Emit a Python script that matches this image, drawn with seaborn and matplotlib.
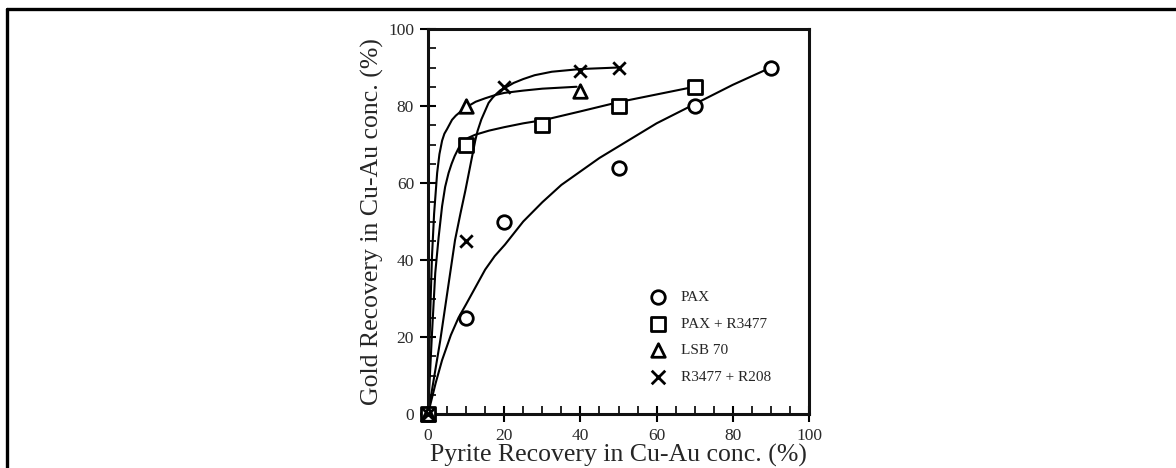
import matplotlib
matplotlib.use("Agg")
import matplotlib.pyplot as plt
from matplotlib.lines import Line2D
from matplotlib.ticker import MultipleLocator
import numpy as np
import pandas as pd
import seaborn as sns

# ---- measured data points ----
series_names = ["PAX", "PAX + R3477", "LSB 70", "R3477 + R208"]

pax_x = [0, 10, 20, 50, 70, 90]
pax_y = [0, 25, 50, 64, 80, 90]

pax_r3477_x = [0, 10, 30, 50, 70]
pax_r3477_y = [0, 70, 75, 80, 85]

lsb70_x = [0, 10, 40]
lsb70_y = [0, 80, 84]

r3477_r208_x = [0, 10, 20, 40, 50]
r3477_r208_y = [0, 45, 85, 89, 90]

# ---- hand-drawn trend curves ----
pax_fit_x = [0, 1, 2, 3.7, 6, 8, 10, 12.5, 15, 17.5, 20.2, 25, 30, 35, 40, 45, 50, 60, 70, 80, 90]
pax_fit_y = [0, 4, 8, 14, 20.5, 25, 28.5, 33, 37.5, 41, 44, 50, 55, 59.5, 63, 66.5, 69.5, 75.5, 80.5, 85.5, 90]

pax_r3477_fit_x = [0, 0.5, 1, 1.9, 2.8, 3.7, 4.5, 5.4, 6.2, 7, 8, 9, 10.5, 12.3, 16, 20, 25, 30.6, 40, 50, 60, 70]
pax_r3477_fit_y = [0, 10, 20, 36.6, 46, 54, 59, 62.6, 65, 67, 69, 70.5, 71.7, 72.5, 73.6, 74.5, 75.5, 76.4, 78.6, 81, 83, 85]

lsb70_fit_x = [0, 0.3, 0.7, 1.05, 1.6, 2.4, 3, 3.7, 4.3, 5, 6.3, 7.3, 8.5, 9.5, 10.6, 12.5, 15, 17.5, 20, 25, 30, 39]
lsb70_fit_y = [0, 15, 30, 41, 52, 62.6, 67.5, 71, 72.8, 74, 76.4, 77.5, 78.5, 79.3, 80, 81.1, 82, 82.8, 83.4, 84, 84.5, 85]

r3477_r208_fit_x = [0, 3.2, 7.1, 8.5, 9.8, 11, 12.4, 13, 14, 15.9, 17, 18, 19, 20.2, 22.5, 25, 28, 32.5, 40, 50]
r3477_r208_fit_y = [0, 19, 45.2, 52, 58, 64, 71, 73.5, 76.5, 80.8, 82.2, 83.2, 84.1, 84.7, 86, 87, 88, 88.9, 89.6, 90]

x_ticks = [0, 20, 40, 60, 80, 100]
y_ticks = [0, 20, 40, 60, 80, 100]

# ---- frames ----
pts = pd.concat([
    pd.DataFrame({"x": pax_x, "y": pax_y, "s": series_names[0]}),
    pd.DataFrame({"x": pax_r3477_x, "y": pax_r3477_y, "s": series_names[1]}),
    pd.DataFrame({"x": lsb70_x, "y": lsb70_y, "s": series_names[2]}),
    pd.DataFrame({"x": r3477_r208_x, "y": r3477_r208_y, "s": series_names[3]}),
], ignore_index=True)

fits = pd.concat([
    pd.DataFrame({"x": pax_fit_x, "y": pax_fit_y, "s": series_names[0]}),
    pd.DataFrame({"x": pax_r3477_fit_x, "y": pax_r3477_fit_y, "s": series_names[1]}),
    pd.DataFrame({"x": lsb70_fit_x, "y": lsb70_fit_y, "s": series_names[2]}),
    pd.DataFrame({"x": r3477_r208_fit_x, "y": r3477_r208_fit_y, "s": series_names[3]}),
], ignore_index=True)

sns.set_theme(style="ticks")
plt.rcParams["font.family"] = ["Liberation Serif", "DejaVu Serif"]

fig = plt.figure(figsize=(11.76, 4.68), dpi=100)
ax = fig.add_axes([428 / 1176, 54 / 468, 381 / 1176, 385 / 468])

for name in series_names:
    sub = fits[fits["s"] == name]
    sns.lineplot(data=sub, x="x", y="y", ax=ax, color="black", lw=1.5,
                 sort=False, estimator=None, legend=False, zorder=2)

markers = {"PAX": "o", "PAX + R3477": "s", "LSB 70": "^", "R3477 + R208": "x"}
sizes = {"PAX": 95, "PAX + R3477": 90, "LSB 70": 95, "R3477 + R208": 80}
for name in series_names:
    sub = pts[pts["s"] == name]
    if markers[name] == "x":
        sns.scatterplot(data=sub, x="x", y="y", ax=ax, marker="x", s=sizes[name],
                        color="black", linewidth=2.0, label=name, zorder=3,
                        clip_on=False)
    else:
        sns.scatterplot(data=sub, x="x", y="y", ax=ax, marker=markers[name],
                        s=sizes[name], facecolor="white", edgecolor="black",
                        linewidth=2.0, label=name, zorder=3, clip_on=False)

ax.set_xlim(0, 100)
ax.set_ylim(0, 100)
ax.set_xticks(x_ticks)
ax.set_yticks(y_ticks)
ax.xaxis.set_minor_locator(MultipleLocator(5))
ax.yaxis.set_minor_locator(MultipleLocator(5))
ax.tick_params(axis="both", which="major", direction="inout", length=12,
               width=1.5, colors="black", labelcolor="#2a2a2a", labelsize=12.5)
ax.tick_params(axis="x", which="major", pad=4)
ax.tick_params(axis="y", which="major", pad=4)
ax.tick_params(axis="both", which="minor", direction="in", length=6, width=1.2,
               colors="black")
for sp in ax.spines.values():
    sp.set_visible(True)
    sp.set_linewidth(2.2)
    sp.set_color("#111111")

ax.set_xlabel("Pyrite Recovery in Cu-Au conc. (%)", fontsize=18.5, labelpad=0)
ax.set_ylabel("Gold Recovery in Cu-Au conc. (%)", fontsize=18.5, labelpad=3)

leg = ax.legend(loc="upper left", bbox_to_anchor=(0.547, 0.337), frameon=False,
                fontsize=11, handletextpad=0.5, labelspacing=0.85,
                borderaxespad=0)
for h in leg.legend_handles:
    h.set_sizes([95])

# outer border (top and left)
fig.add_artist(Line2D([6.5 / 1176, 1.0], [1 - 8.5 / 468, 1 - 8.5 / 468],
                      transform=fig.transFigure, color="black", lw=2.4))
fig.add_artist(Line2D([7 / 1176, 7 / 1176], [0, 1 - 8.5 / 468],
                      transform=fig.transFigure, color="black", lw=2.4))

fig.savefig("out.png", dpi=100)
